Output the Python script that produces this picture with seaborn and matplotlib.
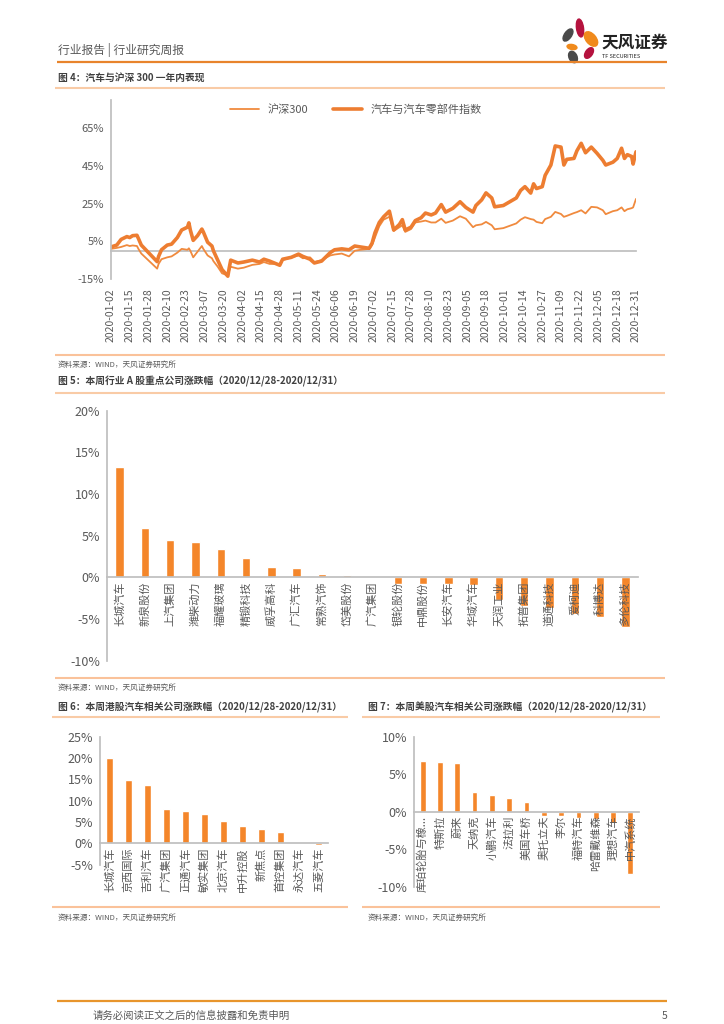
import pandas as pd
import numpy as np
import matplotlib
matplotlib.use('Agg')
import matplotlib.pyplot as plt
import matplotlib.dates as mdates
from matplotlib.patches import Ellipse
from matplotlib.ticker import FuncFormatter
import seaborn as sns

# 图4：汽车与沪深300一年内表现（累计涨跌幅，%）
dates = ['2020-01-02', '2020-01-06', '2020-01-09', '2020-01-13', '2020-01-15', '2020-01-17',
         '2020-01-20', '2020-01-21', '2020-01-23', '2020-02-03', '2020-02-04', '2020-02-06',
         '2020-02-10', '2020-02-13', '2020-02-17', '2020-02-20', '2020-02-24', '2020-02-25',
         '2020-02-26', '2020-02-28', '2020-03-02', '2020-03-05', '2020-03-06', '2020-03-09',
         '2020-03-12', '2020-03-13', '2020-03-16', '2020-03-19', '2020-03-23', '2020-03-24',
         '2020-03-25', '2020-03-30', '2020-04-03', '2020-04-09', '2020-04-14', '2020-04-17',
         '2020-04-21', '2020-04-28', '2020-04-30', '2020-05-06', '2020-05-11', '2020-05-14',
         '2020-05-19', '2020-05-22', '2020-05-27', '2020-06-02', '2020-06-05', '2020-06-10',
         '2020-06-15', '2020-06-19', '2020-06-23', '2020-06-29', '2020-07-01', '2020-07-03',
         '2020-07-06', '2020-07-09', '2020-07-13', '2020-07-16', '2020-07-20', '2020-07-22',
         '2020-07-24', '2020-07-28', '2020-07-31', '2020-08-04', '2020-08-07', '2020-08-11',
         '2020-08-14', '2020-08-18', '2020-08-21', '2020-08-26', '2020-08-31', '2020-09-04',
         '2020-09-09', '2020-09-11', '2020-09-15', '2020-09-18', '2020-09-22', '2020-09-24',
         '2020-09-30', '2020-10-09', '2020-10-12', '2020-10-15', '2020-10-19', '2020-10-21',
         '2020-10-23', '2020-10-27', '2020-10-29', '2020-11-02', '2020-11-05', '2020-11-09',
         '2020-11-11', '2020-11-13', '2020-11-18', '2020-11-20', '2020-11-23', '2020-11-26',
         '2020-11-30', '2020-12-04', '2020-12-08', '2020-12-10', '2020-12-15', '2020-12-18',
         '2020-12-21', '2020-12-23', '2020-12-25', '2020-12-28', '2020-12-29', '2020-12-31']
auto_idx = [2.0, 3.0, 6.0, 7.5, 7.0, 8.0,
            8.2, 6.5, 3.0, -5.8, -3.0, 0.5,
            3.0, 3.5, 7.0, 11.0, 12.5, 14.8,
            11.0, 5.5, 8.0, 11.5, 10.0, 4.5,
            2.5, 0.0, -5.0, -10.0, -13.5, -9.0,
            -5.0, -6.5, -6.0, -5.0, -6.0, -4.5,
            -5.5, -7.7, -4.5, -3.5, -1.8, -3.0,
            -4.5, -6.5, -5.5, -1.0, 0.5, 1.0,
            0.5, 2.5, 2.0, 1.3, 4.0, 9.5,
            15.0, 18.0, 21.0, 11.0, 14.0, 16.5,
            11.0, 12.5, 16.0, 17.5, 20.0, 19.0,
            20.0, 24.5, 20.5, 22.5, 26.0, 23.0,
            20.5, 24.0, 27.0, 30.7, 28.0, 23.3,
            24.0, 28.0, 32.0, 34.0, 30.6, 35.5,
            33.0, 34.0, 40.0, 45.5, 55.6, 55.0,
            45.5, 48.5, 49.0, 53.0, 57.0, 52.0,
            55.0, 51.7, 48.0, 45.5, 47.0, 49.0,
            54.4, 49.0, 51.0, 50.0, 46.0, 52.5]
hs300 = [1.0, 1.5, 2.0, 3.0, 2.5, 2.8,
         2.5, 1.0, -1.5, -9.5, -7.0, -4.5,
         -3.5, -3.0, -1.0, 1.0, 0.5, 1.3,
         0.0, -3.5, -0.5, 2.5, 1.0, -2.5,
         -4.0, -5.5, -8.5, -12.0, -13.0, -10.5,
         -8.5, -9.5, -9.0, -7.5, -7.0, -6.0,
         -7.0, -7.0, -5.0, -3.5, -2.5, -4.0,
         -3.5, -6.0, -5.0, -2.5, -2.0, -1.5,
         -3.0, 0.0, 0.5, 1.0, 3.0, 7.0,
         13.0, 16.5, 18.0, 10.5, 12.5, 13.5,
         10.0, 11.5, 15.0, 15.5, 16.0, 15.0,
         15.0, 17.0, 14.8, 16.0, 18.3, 17.0,
         12.5, 13.5, 14.0, 15.3, 13.5, 11.4,
         12.0, 14.5, 16.5, 17.8, 16.8, 16.5,
         15.3, 14.6, 16.8, 18.0, 20.6, 19.5,
         18.0, 18.5, 20.0, 20.5, 21.5, 19.8,
         23.3, 23.0, 21.5, 19.4, 21.0, 21.5,
         23.0, 21.0, 22.0, 22.6, 23.0, 27.5]

# 图5：A股重点公司
a_names = ['长城汽车', '新泉股份', '上汽集团', '潍柴动力', '福耀玻璃', '精锻科技', '威孚高科',
           '广汇汽车', '常熟汽饰', '岱美股份', '广汽集团', '银轮股份', '中鼎股份', '长安汽车',
           '华域汽车', '天润工业', '拓普集团', '道通科技', '爱柯迪', '科博达', '多伦科技']
a_chg = [13.2, 5.96, 4.48, 4.2, 3.36, 2.28, 1.2,
         1.08, 0.4, 0.32, 0.12, -0.8, -0.8, -0.8,
         -0.9, -2.7, -3.4, -3.7, -4.4, -4.8, -6.0]

# 图6：港股汽车相关公司
hk_names = ['长城汽车', '京西国际', '吉利汽车', '广汽集团', '正通汽车', '敏实集团',
            '北京汽车', '中升控股', '新焦点', '首控集团', '永达汽车', '五菱汽车']
hk_chg = [19.9, 14.8, 13.6, 8.0, 7.6, 7.0,
          5.2, 4.1, 3.4, 2.7, 0.03, -0.3]

# 图7：美股汽车相关公司
us_names = ['库珀轮胎与橡...', '特斯拉', '蔚来', '天纳克', '小鹏汽车', '法拉利', '美国车桥',
            '奥托立夫', '李尔', '福特汽车', '哈雷戴维森', '理想汽车', '中汽系统']
us_chg = [6.8, 6.67, 6.53, 2.62, 2.27, 1.78, 1.33,
          -0.53, -0.53, -0.8, -1.0, -1.56, -8.3]

W, H = 724, 1024
ORANGE = '#ED7D31'
BAR = '#F4862A'
AXIS = '#BFBFBF'
TXT = '#595959'
LIGHT = '#F9CBA6'

sns.set_theme(style='white')
plt.rcParams['font.family'] = ['Noto Sans CJK SC', 'DejaVu Sans']
plt.rcParams['axes.unicode_minus'] = False

pct = FuncFormatter(lambda v, p: f'{v:.0f}%')

fig = plt.figure(figsize=(W / 100, H / 100), dpi=100)

# page layer in pixel coordinates
page = fig.add_axes([0, 0, 1, 1], zorder=0)
page.set_xlim(0, W)
page.set_ylim(H, 0)
page.axis('off')


def hline(y, x0, x1, color, lw):
    page.plot([x0, x1], [y, y], color=color, lw=lw, solid_capstyle='butt')


def fig_ax(x0, y0, x1, y1):
    a = fig.add_axes([x0 / W, 1 - y1 / H, (x1 - x0) / W, (y1 - y0) / H], zorder=2)
    a.set_facecolor('none')
    a.set_axisbelow(False)
    return a


# header
page.text(58, 50, '行业报告 | 行业研究周报', fontsize=8.5, color=TXT, va='center')
hline(62, 57, 667, '#E8842C', 1.6)
for (cx, cy, w, h, ang, c) in [(568, 35, 7, 14, 35, '#4A4A4A'), (580, 28, 7, 18, -8, '#B5123E'),
                               (591, 39, 10, 17, -40, '#F08A1C'), (572, 47, 10, 5, 10, '#F08A1C'),
                               (589, 53, 7, 12, 35, '#B5123E'), (573, 57, 8, 12, -25, '#4A4A4A')]:
    page.add_patch(Ellipse((cx, cy), w, h, angle=ang, color=c))
page.text(601, 43, '天风证券', fontsize=12, fontweight='bold', color='#222222', va='center')
page.text(602, 56, 'TF SECURITIES', fontsize=4, color='#222222', va='center')

# section titles and rules
page.text(58, 78, '图 4：汽车与沪深 300 一年内表现', fontsize=7, fontweight='bold', color='#404040', va='center')
hline(88, 55, 665, LIGHT, 1.5)
hline(355, 55, 665, '#FAC29A', 1.5)
page.text(58, 365, '资料来源：WIND，天风证券研究所', fontsize=5.5, color=TXT, va='center')
page.text(58, 381, '图 5：本周行业 A 股重点公司涨跌幅（2020/12/28-2020/12/31）', fontsize=7,
          fontweight='bold', color='#404040', va='center')
hline(393, 55, 665, LIGHT, 1.5)
hline(678, 55, 665, '#FAC29A', 1.5)
page.text(58, 688, '资料来源：WIND，天风证券研究所', fontsize=5.5, color=TXT, va='center')
page.text(58, 707, '图 6：本周港股汽车相关公司涨跌幅（2020/12/28-2020/12/31）', fontsize=7,
          fontweight='bold', color='#404040', va='center')
hline(717, 52, 348, LIGHT, 1.5)
hline(907, 52, 348, '#FAC29A', 1.5)
page.text(58, 918, '资料来源：WIND，天风证券研究所', fontsize=5.5, color=TXT, va='center')
page.text(368, 707, '图 7：本周美股汽车相关公司涨跌幅（2020/12/28-2020/12/31）', fontsize=7,
          fontweight='bold', color='#404040', va='center')
hline(717, 362, 660, LIGHT, 1.5)
hline(907, 362, 660, '#FAC29A', 1.5)
page.text(368, 918, '资料来源：WIND，天风证券研究所', fontsize=5.5, color=TXT, va='center')

# footer
hline(1001, 57, 667, '#E8952C', 1.6)
page.text(93, 1016, '请务必阅读正文之后的信息披露和免责申明', fontsize=7.5, color=TXT, va='center')
page.text(667, 1016, '5', fontsize=7.5, color=TXT, va='center', ha='right')

# ---- 图4 line chart ----
ax = fig_ax(111, 100, 636, 279)
df4 = pd.DataFrame({'date': pd.to_datetime(dates), '沪深300': hs300, '汽车与汽车零部件指数': auto_idx})
sns.lineplot(data=df4, x='date', y='沪深300', color='#F08A3E', lw=1.3, ax=ax, label='沪深300')
sns.lineplot(data=df4, x='date', y='汽车与汽车零部件指数', color=ORANGE, lw=2.6, ax=ax,
             label='汽车与汽车零部件指数')
ax.set_xlim(pd.Timestamp('2020-01-02'), pd.Timestamp('2020-12-31'))
ax.set_ylim(-15, 80)
ax.set_yticks([-15, 5, 25, 45, 65])
ax.yaxis.set_major_formatter(pct)
ax.set_xticks(pd.date_range('2020-01-02', '2020-12-31', freq='13D'))
ax.xaxis.set_major_formatter(mdates.DateFormatter('%Y-%m-%d'))
ax.set_xlabel('')
ax.set_ylabel('')
for s in ['top', 'right']:
    ax.spines[s].set_visible(False)
ax.spines['bottom'].set_position(('data', 0))
ax.spines['bottom'].set_zorder(0.5)
for s in ['left', 'bottom']:
    ax.spines[s].set_color(AXIS)
ax.tick_params(axis='x', direction='out', length=4, width=0.8, color=AXIS, pad=23,
               labelrotation=90, labelsize=7.5, labelcolor=TXT)
ax.tick_params(axis='y', direction='out', length=3, width=0.8, color=AXIS, pad=2,
               labelsize=8, labelcolor=TXT)
ax.legend(loc='upper center', bbox_to_anchor=(0.467, 1.03), ncol=2, frameon=False,
          fontsize=8, handlelength=2.6, columnspacing=2.2, labelcolor=TXT)


# ---- bar panels ----
def bar_panel(box, names, values, lo, hi, step, lab_size):
    a = fig_ax(*box)
    d = pd.DataFrame({'name': names, 'chg': values})
    sns.barplot(data=d, x='name', y='chg', color=BAR, width=0.33, saturation=1, ax=a)
    a.set_xlim(-0.5, len(names) - 0.5)
    a.set_ylim(lo, hi)
    a.set_yticks(np.arange(lo, hi + step / 2, step))
    a.yaxis.set_major_formatter(pct)
    a.set_xlabel('')
    a.set_ylabel('')
    for s in ['top', 'right']:
        a.spines[s].set_visible(False)
    a.spines['bottom'].set_position(('data', 0))
    for s in ['left', 'bottom']:
        a.spines[s].set_color(AXIS)
    a.set_xticks(np.arange(len(names) + 1) - 0.5, minor=True)
    a.tick_params(axis='x', which='major', length=0, pad=3, labelrotation=90,
                  labelsize=lab_size, labelcolor=TXT)
    a.tick_params(axis='x', which='minor', direction='out', length=3, width=0.8, color=AXIS)
    a.tick_params(axis='y', direction='out', length=3, width=0.8, color=AXIS, pad=2,
                  labelsize=9, labelcolor=TXT)
    return a


bar_panel((107, 410.7, 638, 660.5), a_names, a_chg, -10, 20, 5, 8)
bar_panel((100, 736.7, 328, 864.7), hk_names, hk_chg, -5, 25, 5, 8)
bar_panel((414, 736.7, 639, 886.7), us_names, us_chg, -10, 10, 5, 8)

fig.savefig('out.png', dpi=100)
